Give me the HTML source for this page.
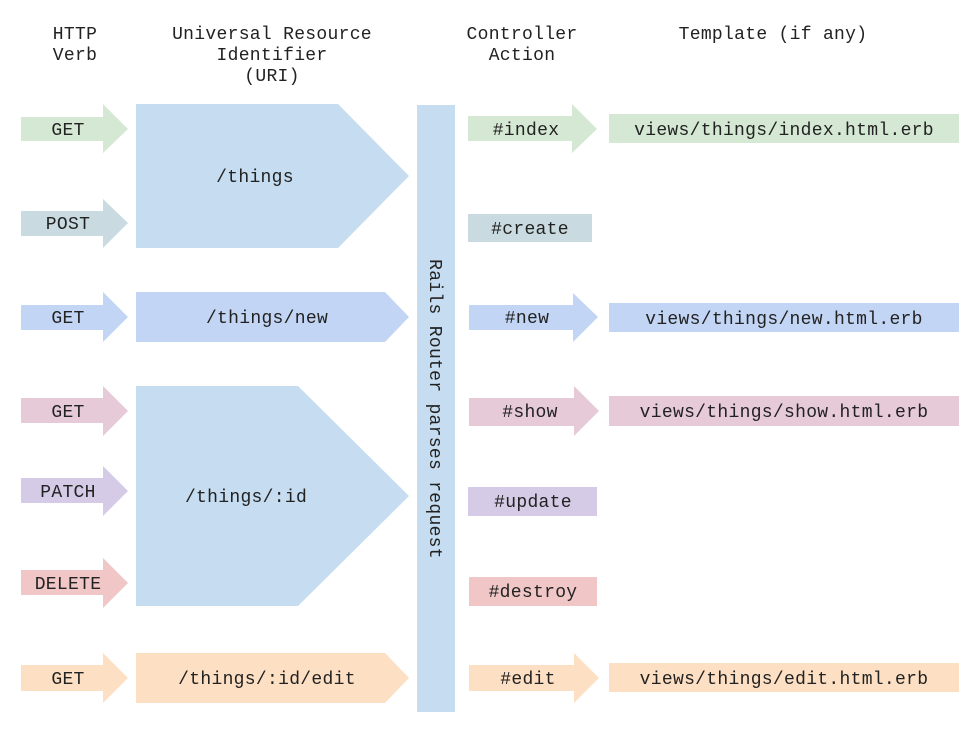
<!DOCTYPE html>
<html><head><meta charset="utf-8"><style>
html,body{margin:0;padding:0;background:#fff;}
svg text{font-family:"Liberation Mono","DejaVu Sans Mono",monospace;font-size:18px;letter-spacing:0.3px;fill:#222;text-anchor:middle;dominant-baseline:central;}
</style></head><body>
<svg width="979" height="731" xmlns="http://www.w3.org/2000/svg">
<g transform="translate(0,2)">
<text x="75" y="33">HTTP</text><text x="75" y="54">Verb</text>
<text x="272" y="33">Universal Resource</text><text x="272" y="54">Identifier</text><text x="272" y="75">(URI)</text>
<text x="522" y="33">Controller</text><text x="522" y="54">Action</text>
<text x="773" y="33">Template (if any)</text>
</g>

<polygon fill="#d5e8d4" points="21,117 103,117 103,104 128,129 103,153 103,141 21,141"/>
<polygon fill="#c9dbe0" points="21,211 103,211 103,199 128,223 103,248 103,236 21,236"/>
<polygon fill="#c3d5f4" points="21,305 103,305 103,292 128,317 103,342 103,330 21,330"/>
<polygon fill="#e6cad8" points="21,398 103,398 103,386 128,411 103,436 103,423 21,423"/>
<polygon fill="#d5cbe6" points="21,478 103,478 103,466 128,491 103,516 103,503 21,503"/>
<polygon fill="#f0c6c6" points="21,570 103,570 103,558 128,583 103,608 103,595 21,595"/>
<polygon fill="#fde0c4" points="21,665 103,665 103,653 128,678 103,703 103,691 21,691"/>

<polygon fill="#c6dcf0" points="136,104 338,104 409,176 338,248 136,248"/>
<polygon fill="#c3d5f4" points="136,292 385,292 409,317 385,342 136,342"/>
<polygon fill="#c6dcf0" points="136,386 298,386 409,496 298,606 136,606"/>
<polygon fill="#fde0c4" points="136,653 385,653 409,678 385,703 136,703"/>

<rect x="417" y="105" width="38" height="607" fill="#c6dcf0"/>

<polygon fill="#d5e8d4" points="468,116 572,116 572,104 597,129 572,153 572,141 468,141"/>
<rect x="468" y="214" width="124" height="28" fill="#c9dbe0"/>
<polygon fill="#c3d5f4" points="469,305 573,305 573,293 598,317 573,342 573,330 469,330"/>
<polygon fill="#e6cad8" points="469,398 574,398 574,386 599,411 574,436 574,426 469,426"/>
<rect x="468" y="487" width="129" height="29" fill="#d5cbe6"/>
<rect x="469" y="577" width="128" height="29" fill="#f0c6c6"/>
<polygon fill="#fde0c4" points="469,665 574,665 574,653 599,678 574,703 574,691 469,691"/>

<rect x="609" y="114" width="350" height="29" fill="#d5e8d4"/>
<rect x="609" y="303" width="350" height="29" fill="#c3d5f4"/>
<rect x="609" y="396" width="350" height="30" fill="#e6cad8"/>
<rect x="609" y="663" width="350" height="29" fill="#fde0c4"/>

<g transform="translate(0,2)">
<text x="68" y="129">GET</text>
<text x="68" y="223">POST</text>
<text x="68" y="317">GET</text>
<text x="68" y="411">GET</text>
<text x="68" y="491">PATCH</text>
<text x="68" y="583">DELETE</text>
<text x="68" y="678">GET</text>

<text x="255" y="176">/things</text>
<text x="267" y="317">/things/new</text>
<text x="246" y="496">/things/:id</text>
<text x="267" y="678">/things/:id/edit</text>

<text x="526" y="129">#index</text>
<text x="530" y="228">#create</text>
<text x="527" y="317">#new</text>
<text x="530" y="411">#show</text>
<text x="533" y="501">#update</text>
<text x="533" y="591">#destroy</text>
<text x="528" y="678">#edit</text>

<text x="784" y="129">views/things/index.html.erb</text>
<text x="784" y="318">views/things/new.html.erb</text>
<text x="784" y="411">views/things/show.html.erb</text>
<text x="784" y="678">views/things/edit.html.erb</text>
</g>
<text transform="translate(434,409) rotate(90)">Rails Router parses request</text>
</svg>
</body></html>
